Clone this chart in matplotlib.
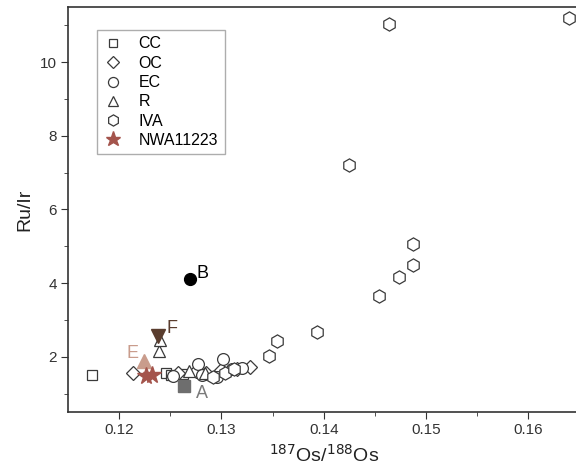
import matplotlib
matplotlib.use("Agg")
import matplotlib.pyplot as plt

plt.rcParams["font.family"] = ["Liberation Sans", "DejaVu Sans"]

# ---- data ----
cc_x = [0.1173, 0.1246, 0.1251, 0.1262]
cc_y = [1.51, 1.57, 1.50, 1.52]
oc_x = [0.1214, 0.1258, 0.1275, 0.1285, 0.1300, 0.1315, 0.1328]
oc_y = [1.57, 1.55, 1.62, 1.57, 1.63, 1.66, 1.71]
ec_x = [0.1253, 0.1277, 0.1302, 0.1281, 0.1296, 0.1310, 0.1320]
ec_y = [1.48, 1.80, 1.94, 1.50, 1.46, 1.68, 1.70]
r_x = [0.1239, 0.1240, 0.1268, 0.1284]
r_y = [2.16, 2.45, 1.62, 1.57]
iva_x = [0.1640, 0.1464, 0.1425, 0.1487, 0.1487, 0.1474, 0.1454, 0.1393,
         0.1354, 0.1346, 0.1303, 0.1292, 0.1312]
iva_y = [11.20, 11.04, 7.20, 5.05, 4.50, 4.16, 3.64, 2.66,
         2.42, 2.01, 1.57, 1.44, 1.66]
nwa_x = [0.1226, 0.1232]
nwa_y = [1.48, 1.51]

# labelled special points: A, B, E, F
pt_a = (0.1263, 1.21)
pt_b = (0.1269, 4.12)
pt_e = (0.1224, 1.89)
pt_f = (0.1238, 2.57)

fig = plt.figure(figsize=(5.76, 4.69), dpi=100)
# axes box in pixels: left 68, right ~579.5, top 7, bottom 412
ax = fig.add_axes([68 / 576, 1 - 412 / 469, 511.5 / 576, 405 / 469])

edge = "#3a3a3a"
kw = dict(linestyle="none", mfc="white", mec=edge, mew=0.9)
ax.plot(cc_x, cc_y, marker="s", ms=7.5, label="CC", **kw)
ax.plot(oc_x, oc_y, marker="D", ms=7, label="OC", **kw)
ax.plot(ec_x, ec_y, marker="o", ms=8.5, label="EC", **kw)
ax.plot(r_x, r_y, marker="^", ms=9, label="R", **kw)
ax.plot(iva_x, iva_y, marker="h", ms=9.5, label="IVA", **kw)

ax.plot(*pt_a, marker="s", ms=8, color="#6e6e6e", linestyle="none")
ax.plot(*pt_b, marker="o", ms=8.5, color="black", linestyle="none")
ax.plot(*pt_e, marker="^", ms=10, color="#c99c8c", linestyle="none")
ax.plot(*pt_f, marker="v", ms=10, color="#5a3d2e", linestyle="none")
ax.plot(nwa_x, nwa_y, marker="*", ms=13, color="#a4544c", linestyle="none",
        label="NWA11223")

tkw = dict(fontsize=13, ha="left", va="center")
ax.text(0.1275, 0.99, "A", color="#7a7a7a", **tkw)
ax.text(0.1276, 4.26, "B", color="black", **tkw)
ax.text(0.1207, 2.08, "E", color="#c99c8c", **tkw)
ax.text(0.1246, 2.76, "F", color="#5a3d2e", **tkw)

ax.set_xlim(0.115, 0.165)
ax.set_ylim(0.5, 11.5)
ax.set_xticks([0.12, 0.13, 0.14, 0.15, 0.16])
ax.set_xticks([0.125, 0.135, 0.145, 0.155], minor=True)
ax.set_yticks([2, 4, 6, 8, 10])
ax.set_yticks([1, 3, 5, 7, 9, 11], minor=True)
ax.tick_params(which="both", direction="out", labelsize=11, colors="#333333",
               pad=3)
ax.tick_params(which="major", length=5)
ax.tick_params(which="minor", length=3)
for s in ax.spines.values():
    s.set_linewidth(1.2)
    s.set_color("#333333")

ax.set_xlabel(r"$^{187}$Os/$^{188}$Os", fontsize=14, color="#222222",
              labelpad=5)
ax.set_ylabel("Ru/Ir", fontsize=14, color="#222222", labelpad=5)

leg = ax.legend(loc="upper left", bbox_to_anchor=(0.057, 0.943), fontsize=11.5,
                frameon=True, fancybox=False, edgecolor="#999999",
                handletextpad=1.0, labelspacing=0.27, borderpad=0.4,
                borderaxespad=0, handlelength=1.2, markerscale=0.85)
leg.get_frame().set_linewidth(1.0)

fig.savefig("out.png", dpi=100)
